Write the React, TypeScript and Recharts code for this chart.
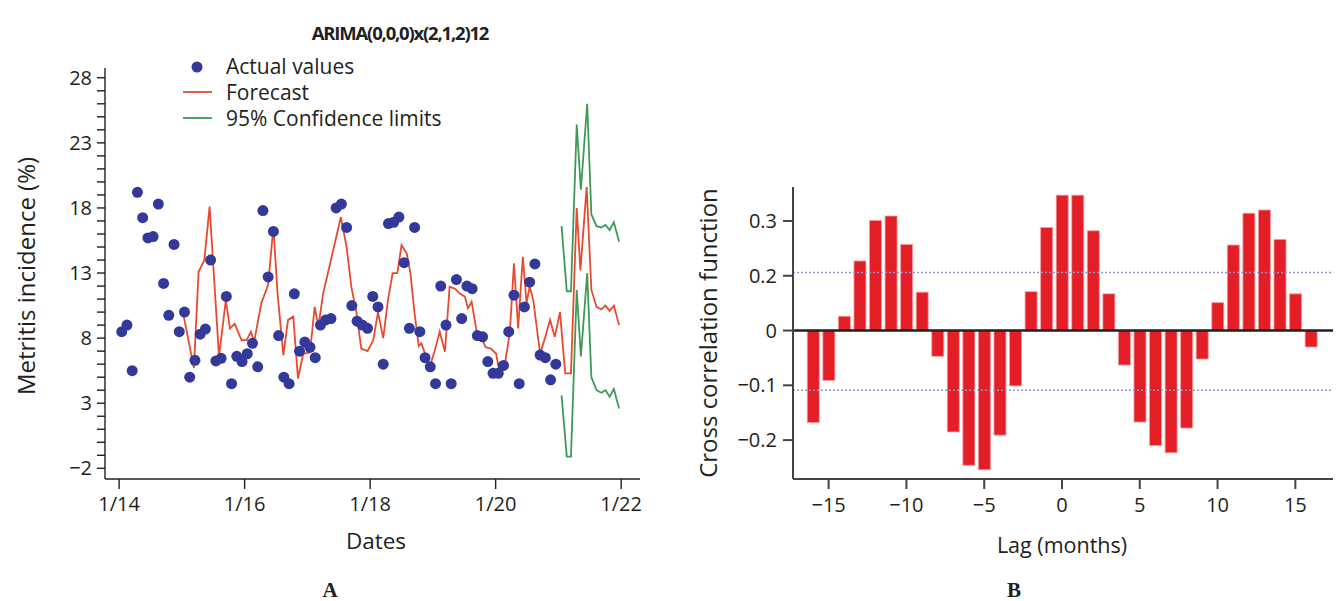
import React from 'react'
import {
  ComposedChart,
  Scatter,
  Line,
  Bar,
  XAxis,
  YAxis,
  ReferenceLine,
} from 'recharts'

const FONT = '"Open Sans", "Noto Sans", sans-serif'
const INK = '#231f20'
const BLUE = '#33399a'
const RED = '#e8492f'
const GREEN = '#3d9b57'

// ---- Panel A: metritis incidence (%), monthly from 1/14 ----
const actualValues = [
  8.5, 9.0, 5.5, 19.2, 17.25, 15.7, 15.8, 18.3, 12.2, 9.75, 15.2, 8.5,
  10.0, 5.0, 6.3, 8.3, 8.7, 14.0, 6.25, 6.45, 11.2, 4.5, 6.6, 6.2,
  6.8, 7.6, 5.8, 17.8, 12.7, 16.2, 8.2, 5.0, 4.5, 11.4, 7.0, 7.7,
  7.3, 6.5, 9.0, 9.4, 9.5, 18.0, 18.3, 16.5, 10.5, 9.3, 9.0, 8.75,
  11.2, 10.4, 6.0, 16.8, 16.9, 17.3, 13.8, 8.75, 16.5, 8.5, 6.5, 5.8,
  4.5, 12.0, 9.0, 4.5, 12.5, 9.5, 12.0, 11.8, 8.2, 8.1, 6.2, 5.3,
  5.3, 5.9, 8.5, 11.3, 4.5, 10.4, 12.3, 13.7, 6.7, 6.5, 4.8, 6.0,
]

// month index since Jan 2014
const forecastMonths = [
  12.25, 14.3, 15.2, 16.3, 17.3, 19.1, 20.4, 21.2, 22.1, 23.4, 24.4, 25.2,
  25.8, 27.2, 28.5, 29.5, 30.3, 31.4, 32.3, 33.3, 34.2, 35.2, 36.5, 37.4,
  38.1, 39.0, 40.5, 42.4, 43.5, 44.4, 45.4, 46.3, 47.5, 48.6, 49.5, 50.5,
  51.4, 52.3, 53.2, 54.0, 55.0, 55.7, 56.5, 57.3, 57.8, 58.5, 59.4, 60.4,
  61.3, 62.3, 63.2, 64.2, 65.2, 66.1, 66.7, 67.4, 68.4, 69.3, 70.1, 71.1,
  72.1, 72.8, 73.8, 74.7, 75.5, 76.3, 77.2, 77.9, 78.5, 79.2, 80.5, 81.5,
  82.4, 83.3, 84.3, 85.3, 86.4, 87.5, 88.2, 89.4, 90.3, 91.3, 92.2, 93.0,
  93.8, 94.6, 95.6,
]
const forecastValues = [
  9.9, 5.7, 13.1, 14.0, 18.1, 6.6, 10.9, 8.75, 9.1, 7.85, 7.85, 8.5,
  7.7, 10.7, 12.1, 16.55, 11.4, 6.7, 9.4, 9.65, 4.9, 6.8, 6.9, 10.4,
  8.9, 11.4, 14.0, 17.3, 15.0, 11.95, 9.9, 7.2, 7.0, 7.85, 10.0, 8.0,
  10.9, 13.0, 13.0, 15.15, 14.5, 13.0, 9.9, 7.4, 7.6, 6.8, 5.8, 7.1,
  8.5, 6.95, 11.95, 11.8, 11.4, 11.2, 10.3, 10.8, 8.4, 8.0, 7.3, 7.2,
  6.8, 5.2, 6.1, 8.4, 13.75, 8.75, 14.25, 10.7, 11.95, 10.9, 6.8, 8.1,
  9.4, 8.1, 10.0, 5.3, 5.3, 18.0, 13.2, 19.6, 11.7, 10.4, 10.2, 10.5,
  10.1, 10.5, 9.0,
]

const limitMonths = [84.6, 85.6, 86.4, 87.5, 88.3, 89.5, 90.3, 91.3, 92.2, 93.0, 93.8, 94.6, 95.6]
const upperLimit = [16.6, 11.6, 11.6, 24.4, 19.4, 26.0, 17.5, 16.6, 16.5, 16.7, 16.3, 16.9, 15.4]
const lowerLimit = [3.6, -1.1, -1.1, 11.7, 6.6, 13.0, 5.0, 4.0, 3.8, 4.0, 3.5, 4.1, 2.6]

const dateTicks = [0, 24, 48, 72, 96]
const dateTickLabels = ['1/14', '1/16', '1/18', '1/20', '1/22']
const incidenceTicks = [-2, 3, 8, 13, 18, 23, 28]

const seriesNames = ['Actual values', 'Forecast', '95% Confidence limits']

// ---- Panel B: cross correlation by lag ----
const lags = [
  -16, -15, -14, -13, -12, -11, -10, -9, -8, -7, -6, -5, -4, -3, -2, -1, 0,
  1, 2, 3, 4, 5, 6, 7, 8, 9, 10, 11, 12, 13, 14, 15, 16,
]
const ccf = [
  -0.168, -0.091, 0.026, 0.127, 0.201, 0.209, 0.157, 0.07, -0.047, -0.185, -0.246,
  -0.254, -0.191, -0.101, 0.071, 0.188, 0.247, 0.247, 0.182, 0.067, -0.063, -0.167,
  -0.21, -0.223, -0.178, -0.052, 0.051, 0.156, 0.214, 0.22, 0.166, 0.067, -0.03,
]
const ccfLimits = [0.106, -0.109]
const lagTicks = [-15, -10, -5, 0, 5, 10, 15]
const ccfTicks = [-0.2, -0.1, 0, 0.1, 0.2]
const ccfTickLabels = ['\u22120.2', '\u22120.1', '0', '0.2', '0.3']

const actualData = actualValues.map((v, i) => ({ t: i + 0.5, v }))
const forecastData = forecastMonths.map((t, i) => ({ t, v: forecastValues[i] }))
const upperData = limitMonths.map((t, i) => ({ t, v: upperLimit[i] }))
const lowerData = limitMonths.map((t, i) => ({ t, v: lowerLimit[i] }))
const ccfData = lags.map((lag, i) => ({ lag, r: ccf[i] }))

const minorTicks: number[] = []
for (let v = -2; v <= 28; v++) minorTicks.push(v)

const minus = (s: string) => s.replace('-', '\u2212')

const tickStyle = { fill: INK, fontSize: 20, fontFamily: FONT }

const Txt = ({ x, y, children, style, rot }: any) => (
  <div
    style={{
      position: 'absolute',
      left: x,
      top: y,
      transform: `translate(-50%, -50%)${rot ? ` rotate(${rot}deg)` : ''}`,
      whiteSpace: 'nowrap',
      lineHeight: 1,
      color: INK,
      fontFamily: FONT,
      ...style,
    }}
  >
    {children}
  </div>
)

const Dot = (props: any) => <circle cx={props.cx} cy={props.cy} r={5.5} fill={BLUE} />

function PanelA() {
  return (
    <ComposedChart
      width={660}
      height={601}
      margin={{ top: 68, right: 20, bottom: 82, left: 45 }}
      style={{ position: 'absolute', left: 0, top: 0 }}
    >
      <XAxis
        dataKey="t"
        type="number"
        domain={[-2.7, 99.6]}
        allowDataOverflow
        ticks={dateTicks}
        tickFormatter={(v) => dateTickLabels[dateTicks.indexOf(v)] ?? ''}
        height={40}
        tickSize={10}
        tickMargin={8}
        tick={tickStyle}
        stroke={INK}
        strokeWidth={1.4}
      />
      <YAxis
        type="number"
        domain={[-2.82, 28.75]}
        allowDataOverflow
        ticks={minorTicks}
        interval={0}
        tickFormatter={(v) => (incidenceTicks.includes(v) ? minus(String(v)) : '')}
        width={60}
        tickSize={8}
        tickMargin={5}
        tick={tickStyle}
        stroke={INK}
        strokeWidth={1.4}
      />
      <Scatter data={actualData} dataKey="v" shape={Dot} isAnimationActive={false} />
      <Line
        data={forecastData}
        dataKey="v"
        type="linear"
        stroke={RED}
        strokeWidth={1.8}
        dot={false}
        isAnimationActive={false}
      />
      <Line
        data={upperData}
        dataKey="v"
        type="linear"
        stroke={GREEN}
        strokeWidth={1.8}
        dot={false}
        isAnimationActive={false}
      />
      <Line
        data={lowerData}
        dataKey="v"
        type="linear"
        stroke={GREEN}
        strokeWidth={1.8}
        dot={false}
        isAnimationActive={false}
      />
    </ComposedChart>
  )
}

function PanelB() {
  return (
    <ComposedChart
      width={641}
      height={601}
      data={ccfData}
      margin={{ top: 187, right: 8, bottom: 82, left: 33 }}
      style={{ position: 'absolute', left: 700, top: 0 }}
    >
      <XAxis
        dataKey="lag"
        type="number"
        domain={[-17.29, 17.42]}
        allowDataOverflow
        ticks={lagTicks}
        interval={0}
        tickFormatter={(v) => minus(String(v))}
        height={40}
        tickSize={10}
        tickMargin={9}
        tick={tickStyle}
        stroke="#444"
        strokeWidth={2}
      />
      <YAxis
        type="number"
        domain={[-0.271, 0.262]}
        allowDataOverflow
        ticks={ccfTicks}
        interval={0}
        tickFormatter={(v) => ccfTickLabels[ccfTicks.indexOf(v)] ?? ''}
        width={60}
        tickSize={10}
        tickMargin={6}
        tick={tickStyle}
        stroke="#444"
        strokeWidth={2}
      />
      {ccfLimits.map((y) => (
        <ReferenceLine key={y} y={y} stroke="#9c90cf" strokeWidth={1.5} strokeDasharray="2 2" />
      ))}
      <Bar
        dataKey="r"
        barSize={12}
        fill="#e41e26"
        stroke="#f49a9a"
        strokeWidth={0.8}
        isAnimationActive={false}
      />
      <ReferenceLine y={0} stroke={INK} strokeWidth={2.5} />
    </ComposedChart>
  )
}

export default function App() {
  return (
    <div
      style={{
        position: 'absolute',
        left: 0,
        top: 0,
        width: 1341,
        height: 601,
        background: '#fff',
        fontFamily: FONT,
      }}
    >
      <PanelA />
      <PanelB />

      <Txt x={400} y={33} style={{ fontWeight: 700, fontSize: 18.5, letterSpacing: -1.2 }}>
        ARIMA(0,0,0)x(2,1,2)12
      </Txt>

      {/* Legend */}
      <svg style={{ position: 'absolute', left: 180, top: 55 }} width={36} height={75}>
        <circle cx={17} cy={12} r={5.5} fill={BLUE} />
        <line x1={3} x2={32} y1={37} y2={37} stroke={RED} strokeWidth={1.8} />
        <line x1={3} x2={32} y1={63} y2={63} stroke={GREEN} strokeWidth={1.8} />
      </svg>
      {seriesNames.map((name, i) => (
        <div
          key={name}
          style={{
            position: 'absolute',
            left: 226,
            top: [66, 92, 118][i],
            transform: 'translateY(-50%)',
            fontSize: 21,
            lineHeight: 1,
            color: INK,
            whiteSpace: 'nowrap',
          }}
        >
          {name}
        </div>
      ))}

      <Txt x={26} y={276} rot={-90} style={{ fontSize: 24 }}>
        Metritis incidence (%)
      </Txt>
      <Txt x={376} y={541} style={{ fontSize: 22.5 }}>
        Dates
      </Txt>
      <Txt x={708} y={333} rot={-90} style={{ fontSize: 24 }}>
        Cross correlation function
      </Txt>
      <Txt x={1062} y={545} style={{ fontSize: 21.5 }}>
        Lag (months)
      </Txt>
      <Txt x={330} y={590} style={{ fontFamily: '"Liberation Serif", serif', fontWeight: 700, fontSize: 21 }}>
        A
      </Txt>
      <Txt x={1014} y={590} style={{ fontFamily: '"Liberation Serif", serif', fontWeight: 700, fontSize: 21 }}>
        B
      </Txt>
    </div>
  )
}
